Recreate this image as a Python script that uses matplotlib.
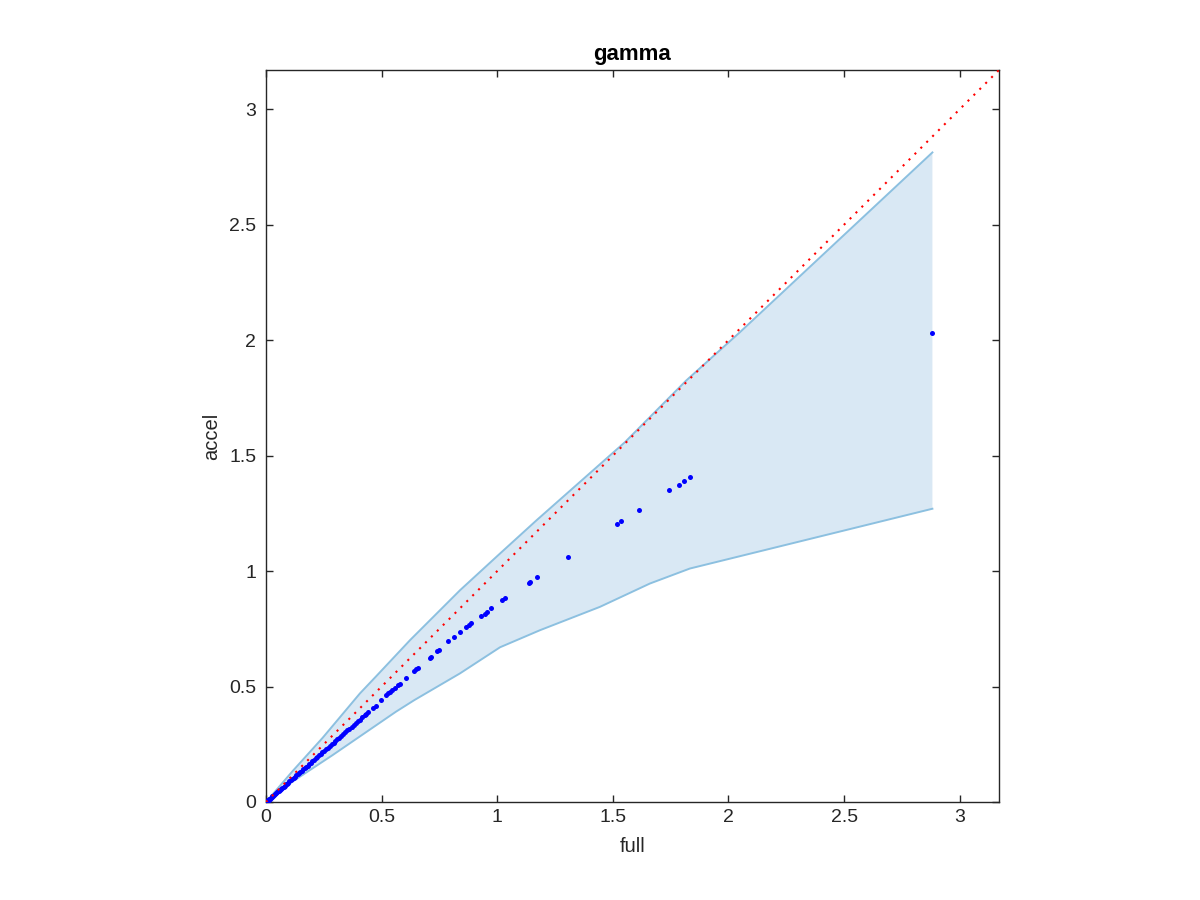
import numpy as np
import matplotlib
matplotlib.use("Agg")
import matplotlib.pyplot as plt

plt.rcParams['font.family'] = ['Liberation Sans', 'DejaVu Sans']

# Band (upper / lower envelope)
upper_x = [0.0, 0.117, 0.245, 0.406, 0.476, 0.623, 0.839, 1.012, 1.170, 1.552, 1.817, 2.049, 2.882]
upper_y = [0.0, 0.136, 0.278, 0.470, 0.544, 0.701, 0.917, 1.076, 1.220, 1.558, 1.825, 2.034, 2.813]
lower_x = [0.0, 0.117, 0.288, 0.562, 0.641, 0.839, 1.012, 1.185, 1.444, 1.660, 1.833, 2.882]
lower_y = [0.0, 0.090, 0.203, 0.391, 0.441, 0.557, 0.670, 0.744, 0.845, 0.946, 1.011, 1.270]

# Scatter points (full vs accel)
full = [0.002, 0.005, 0.008, 0.011, 0.014, 0.017, 0.020, 0.024, 0.028, 0.032,
        0.036, 0.040, 0.044, 0.048, 0.052, 0.056, 0.061, 0.066, 0.071, 0.076,
        0.081, 0.086, 0.091, 0.096, 0.101, 0.107, 0.113, 0.119, 0.125, 0.131,
        0.137, 0.143, 0.149, 0.155, 0.161, 0.167, 0.173, 0.180, 0.187, 0.194,
        0.201, 0.208, 0.215, 0.222, 0.229, 0.236, 0.244, 0.252, 0.260, 0.268,
        0.276, 0.284, 0.292, 0.300, 0.308, 0.316, 0.325, 0.334, 0.343, 0.352,
        0.361, 0.370, 0.379, 0.388, 0.397, 0.406, 0.416, 0.426, 0.433, 0.441,
        0.462, 0.477, 0.498, 0.519, 0.529, 0.537, 0.547, 0.558, 0.569, 0.581,
        0.607, 0.638, 0.647, 0.656, 0.708, 0.714, 0.740, 0.747, 0.789, 0.812,
        0.837, 0.867, 0.877, 0.887, 0.928, 0.945, 0.954, 0.975, 1.021, 1.032,
        1.137, 1.141, 1.174, 1.304, 1.516, 1.534, 1.611, 1.745, 1.784, 1.807,
        1.832, 2.880]
accel = [0.002, 0.004, 0.007, 0.010, 0.012, 0.015, 0.018, 0.021, 0.025, 0.028,
         0.032, 0.035, 0.039, 0.042, 0.046, 0.049, 0.054, 0.058, 0.062, 0.067,
         0.071, 0.076, 0.080, 0.084, 0.089, 0.094, 0.099, 0.105, 0.110, 0.115,
         0.121, 0.126, 0.131, 0.136, 0.142, 0.147, 0.152, 0.158, 0.165, 0.171,
         0.177, 0.183, 0.189, 0.195, 0.202, 0.208, 0.215, 0.222, 0.229, 0.236,
         0.243, 0.250, 0.257, 0.264, 0.271, 0.278, 0.286, 0.294, 0.302, 0.310,
         0.318, 0.326, 0.334, 0.341, 0.349, 0.357, 0.366, 0.375, 0.381, 0.388,
         0.405, 0.417, 0.440, 0.463, 0.470, 0.476, 0.486, 0.494, 0.505, 0.513,
         0.539, 0.567, 0.574, 0.581, 0.624, 0.628, 0.654, 0.660, 0.696, 0.715,
         0.737, 0.758, 0.768, 0.777, 0.806, 0.816, 0.823, 0.840, 0.874, 0.885,
         0.950, 0.952, 0.975, 1.061, 1.202, 1.215, 1.264, 1.349, 1.374, 1.392,
         1.409, 2.033]

lim = [0.0, 3.17]
ticks = [0, 0.5, 1, 1.5, 2, 2.5, 3]
tick_labels = ['0', '0.5', '1', '1.5', '2', '2.5', '3']

fig = plt.figure(figsize=(12, 9), dpi=100)
ax = fig.add_axes([266/1200, 98/900, 733/1200, 732/900])

band_color = '#d9e8f4'
edge_color = '#8cc0e0'
ax.fill(np.r_[upper_x, lower_x[::-1]], np.r_[upper_y, lower_y[::-1]],
        facecolor=band_color, edgecolor='none', zorder=1)
ax.plot(upper_x, upper_y, color=edge_color, lw=1.4, zorder=2)
ax.plot(lower_x, lower_y, color=edge_color, lw=1.4, zorder=2)

ax.plot(full, accel, linestyle='none', marker='o', ms=3.6, color='#0000ff',
        markeredgewidth=0, zorder=3)
ax.plot(lim, lim, color='#ff0000', lw=1.5, linestyle=(0, (1, 3)), zorder=4)

ax.set_xlim(lim)
ax.set_ylim(lim)
ax.set_xticks(ticks)
ax.set_yticks(ticks)
ax.set_xticklabels(tick_labels)
ax.set_yticklabels(tick_labels)

for s in ax.spines.values():
    s.set_color('#262626')
    s.set_linewidth(1.0)
ax.tick_params(direction='in', length=5.3, width=1.0, color='#262626',
               labelsize=14, labelcolor='#262626',
               top=True, right=True)
ax.tick_params(axis='x', pad=5)
ax.tick_params(axis='y', pad=7)

ax.set_xlabel('full', fontsize=14.5, color='#262626', labelpad=8)
ax.set_ylabel('accel', fontsize=14.5, color='#262626', labelpad=6)
ax.set_title('gamma', fontsize=16, fontweight='bold', pad=7)

fig.savefig('out.png', dpi=100)
